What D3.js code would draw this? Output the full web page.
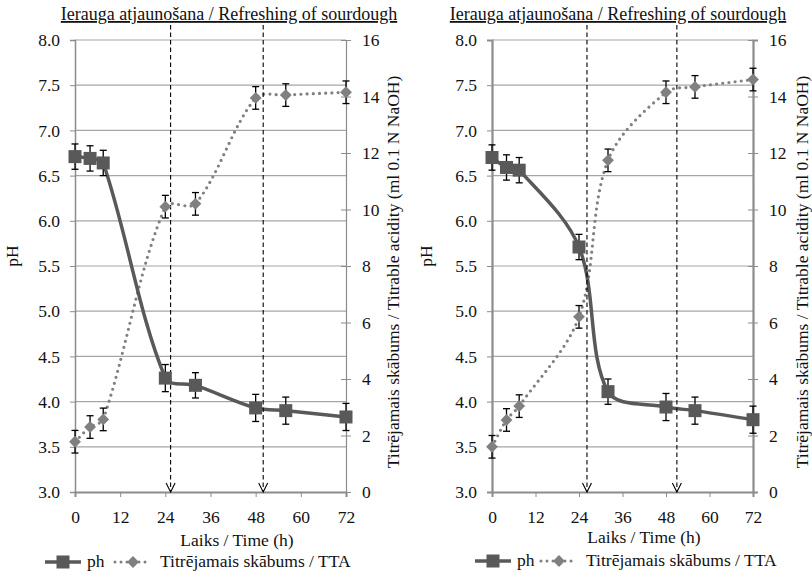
<!DOCTYPE html>
<html><head><meta charset="utf-8">
<script src="https://cdn.jsdelivr.net/npm/d3@7/dist/d3.min.js"></script>
<style>
html,body{margin:0;padding:0;background:#fff;}
svg{display:block;}
svg text{font-family:"Liberation Serif","DejaVu Serif","Times New Roman",serif !important;}
</style></head>
<body><svg id="c" width="812" height="571"></svg>
<script>
// ---- data ----
const times = [0, 4, 7.5, 24, 32, 48, 56, 72];
const phLeft = [6.71, 6.69, 6.64, 4.26, 4.18, 3.93, 3.90, 3.83];
const ttaLeft = [1.78, 2.30, 2.57, 10.10, 10.20, 13.95, 14.05, 14.15];
const phRight = [6.70, 6.59, 6.56, 5.71, 4.11, 3.94, 3.90, 3.80];
const ttaRight = [1.60, 2.55, 3.04, 6.20, 11.74, 14.15, 14.34, 14.60];
const phErrLeft = [0.14, 0.14, 0.14, 0.15, 0.14, 0.15, 0.15, 0.15];
const ttaErrLeft = [0.40, 0.40, 0.40, 0.40, 0.40, 0.40, 0.40, 0.40];
const phErrRight = [0.14, 0.14, 0.14, 0.14, 0.14, 0.15, 0.15, 0.15];
const ttaErrRight = [0.40, 0.40, 0.40, 0.40, 0.40, 0.40, 0.40, 0.40];
const arrowsLeft = [25.4, 50.0];
const arrowsRight = [26.2, 51.0];
const phTicks = [3.0, 3.5, 4.0, 4.5, 5.0, 5.5, 6.0, 6.5, 7.0, 7.5, 8.0];
const ttaTicks = [0, 2, 4, 6, 8, 10, 12, 14, 16];
const timeTicks = [0, 12, 24, 36, 48, 60, 72];
const titleText = "Ierauga atjaunošana / Refreshing of sourdough";
const yLabel = "pH";
const y2Label = "Titrējamais skābums / Titrable acidity (ml 0.1 N NaOH)";
const xLabel = "Laiks / Time (h)";
const legendLabels = ["ph", "Titrējamais skābums / TTA"];

const FONT = "Liberation Serif, DejaVu Serif, serif";
const svg = d3.select("#c");

const PH_COL = "#595959", TTA_COL = "#808080", GRID = "#a6a6a6", AXIS = "#8c8c8c";

// spreadsheet-style smoothed curve (Bezier with tangents weighted by segment lengths)
function SmoothCurve(context) { this._context = context; }
SmoothCurve.prototype = {
  areaStart() {}, areaEnd() {},
  lineStart() { this._pts = []; },
  point(x, y) { this._pts.push([+x, +y]); },
  lineEnd() {
    const p = this._pts, c = this._context, n = p.length;
    if (!n) return;
    c.moveTo(p[0][0], p[0][1]);
    if (n === 1) return;
    const d = (a, b) => Math.hypot(b[0] - a[0], b[1] - a[1]);
    const P = i => p[Math.max(0, Math.min(n - 1, i))];
    const tan = (i, seg) => {
      const a = P(i - 1), b = P(i + 1);
      const tot = d(a, P(i)) + d(P(i), b);
      const f = tot > 0 ? seg / tot / 3 : 0;
      return [(b[0] - a[0]) * f, (b[1] - a[1]) * f];
    };
    for (let i = 0; i < n - 1; i++) {
      const seg = d(p[i], p[i + 1]);
      const t1 = tan(i, seg), t2 = tan(i + 1, seg);
      c.bezierCurveTo(p[i][0] + t1[0], p[i][1] + t1[1],
        p[i + 1][0] - t2[0], p[i + 1][1] - t2[1], p[i + 1][0], p[i + 1][1]);
    }
  }
};
const curveSmooth = ctx => new SmoothCurve(ctx);

function panel(cfg) {
  const g = svg.append("g");
  const x = d3.scaleLinear().domain([0, 72]).range([cfg.x0, cfg.x1]);
  const y = d3.scaleLinear().domain([3, 8]).range([cfg.y1, cfg.y0]);
  const y2 = d3.scaleLinear().domain([0, 16]).range([cfg.y1, cfg.y0]);

  // gridlines
  g.append("g").selectAll("line").data(phTicks.slice(1)).join("line")
    .attr("x1", cfg.x0).attr("x2", cfg.x1)
    .attr("y1", d => y(d)).attr("y2", d => y(d))
    .attr("stroke", GRID).attr("stroke-width", 1.2);

  function styleAxis(a, w) {
    a.attr("font-family", FONT);
    a.select(".domain").attr("stroke", AXIS).attr("stroke-width", w);
    a.selectAll(".tick line").attr("stroke", AXIS);
    a.selectAll(".tick text").attr("font-size", 17.5).attr("fill", "#111").attr("font-family", FONT);
  }
  const la = g.append("g").attr("transform", `translate(${cfg.x0},0)`)
    .call(d3.axisLeft(y).tickValues(phTicks).tickFormat(d3.format(".1f")).tickSize(5).tickPadding(10));
  styleAxis(la, cfg.axW);

  const ra = g.append("g").attr("transform", `translate(${cfg.x1},0)`)
    .call(d3.axisRight(y2).tickValues(ttaTicks).tickSize(5).tickPadding(11));
  styleAxis(ra, cfg.axW2);
  ra.selectAll(".tick line").attr("x1", -5);

  const ba = g.append("g").attr("transform", `translate(0,${cfg.y1})`)
    .call(d3.axisBottom(x).tickValues(timeTicks).tickSize(5).tickPadding(14));
  styleAxis(ba, 2);

  // TTA line (dotted)
  const tPts = times.map((t, i) => [t, cfg.tta[i]]);
  g.append("path").datum(tPts)
    .attr("d", d3.line().x(d => x(d[0])).y(d => y2(d[1])).curve(curveSmooth))
    .attr("fill", "none").attr("stroke", TTA_COL).attr("stroke-width", 3.2)
    .attr("stroke-linecap", "round").attr("stroke-dasharray", "0,6.2");

  // pH line
  const pPts = times.map((t, i) => [t, cfg.ph[i]]);
  g.append("path").datum(pPts)
    .attr("d", d3.line().x(d => x(d[0])).y(d => y(d[1])).curve(curveSmooth))
    .attr("fill", "none").attr("stroke", PH_COL).attr("stroke-width", 3.5);

  // dashed arrows
  const ar = g.append("g");
  cfg.arrows.forEach(t => {
    const ax = x(t);
    ar.append("line").attr("x1", ax).attr("x2", ax).attr("y1", 25).attr("y2", cfg.y1)
      .attr("stroke", "#000").attr("stroke-width", 1.1).attr("stroke-dasharray", "4.5,3");
    ar.append("path").attr("d", `M${ax - 4.5},${cfg.y1 - 9}L${ax},${cfg.y1}L${ax + 4.5},${cfg.y1 - 9}`)
      .attr("fill", "none").attr("stroke", "#000").attr("stroke-width", 1.1);
  });

  // error bars
  function errBars(vals, errs, sc) {
    const eg = g.append("g").attr("stroke", "#000").attr("stroke-width", 1.3);
    times.forEach((t, i) => {
      const cx = x(t), yt = sc(vals[i] + errs[i]), yb = sc(vals[i] - errs[i]);
      eg.append("line").attr("x1", cx).attr("x2", cx).attr("y1", yt).attr("y2", yb);
      eg.append("line").attr("x1", cx - 3.5).attr("x2", cx + 3.5).attr("y1", yt).attr("y2", yt);
      eg.append("line").attr("x1", cx - 3.5).attr("x2", cx + 3.5).attr("y1", yb).attr("y2", yb);
    });
  }
  errBars(cfg.tta, cfg.ttaErr, y2);
  errBars(cfg.ph, cfg.phErr, y);

  // markers
  g.append("g").selectAll("path").data(tPts).join("path")
    .attr("d", d3.symbol(d3.symbolDiamond2, 90)())
    .attr("transform", d => `translate(${x(d[0])},${y2(d[1])})`)
    .attr("fill", TTA_COL);
  g.append("g").selectAll("rect").data(pPts).join("rect")
    .attr("x", d => x(d[0]) - 6.5).attr("y", d => y(d[1]) - 6.5)
    .attr("width", 13).attr("height", 13).attr("fill", PH_COL);

  // title
  g.append("text").attr("x", cfg.titleX).attr("y", 20).attr("text-anchor", "middle")
    .attr("font-family", FONT).attr("font-size", 18).attr("fill", "#111").attr("text-decoration", "underline")
    .text(titleText);

  // y labels
  g.append("text").attr("transform", `translate(${cfg.x0 - cfg.yLabOff},${(cfg.y0 + cfg.y1) / 2 - 10}) rotate(-90)`)
    .attr("text-anchor", "middle").attr("font-family", FONT).attr("font-size", 17.5).attr("fill", "#111").text(yLabel);
  g.append("text").attr("transform", `translate(${cfg.y2LabX},272) rotate(-90)`)
    .attr("text-anchor", "middle").attr("dy", "0.35em").attr("font-family", FONT).attr("font-size", 17.5).attr("fill", "#111").text(y2Label);

  // x label
  g.append("text").attr("x", cfg.xLabX).attr("y", cfg.xLabY).attr("text-anchor", "middle")
    .attr("font-family", FONT).attr("font-size", 17.5).attr("fill", "#111").text(xLabel);

  // legend
  const lg = g.append("g").attr("font-family", FONT);
  const ly = cfg.legY;
  lg.append("line").attr("x1", cfg.leg[0]).attr("x2", cfg.leg[0] + 36).attr("y1", ly).attr("y2", ly)
    .attr("stroke", PH_COL).attr("stroke-width", 3.5);
  lg.append("rect").attr("x", cfg.leg[0] + 18 - 6.5).attr("y", ly - 6.5).attr("width", 13).attr("height", 13).attr("fill", PH_COL);
  lg.append("text").attr("x", cfg.leg[0] + 42).attr("y", ly + 5).attr("font-size", 17.5).attr("fill", "#111").text(legendLabels[0]);
  lg.append("line").attr("x1", cfg.leg[1]).attr("x2", cfg.leg[1] + 36).attr("y1", ly).attr("y2", ly)
    .attr("stroke", TTA_COL).attr("stroke-width", 3).attr("stroke-linecap", "round").attr("stroke-dasharray", "0,6");
  lg.append("path").attr("d", d3.symbol(d3.symbolDiamond2, 90)()).attr("transform", `translate(${cfg.leg[1] + 18},${ly})`).attr("fill", TTA_COL);
  lg.append("text").attr("x", cfg.leg[1] + 45).attr("y", ly + 5).attr("font-size", 17.5).attr("fill", "#111").text(legendLabels[1]);
}

panel({ x0: 75, x1: 346, y0: 40, y1: 492, ph: phLeft, tta: ttaLeft, phErr: phErrLeft, ttaErr: ttaErrLeft,
  arrows: arrowsLeft, axW: 1.5, axW2: 1.2, titleX: 229, yLabOff: 57, y2LabX: 393, xLabX: 237, xLabY: 546,
  legY: 562, leg: [45, 115] });
panel({ x0: 492, x1: 753, y0: 40, y1: 492, ph: phRight, tta: ttaRight, phErr: phErrRight, ttaErr: ttaErrRight,
  arrows: arrowsRight, axW: 2.2, axW2: 2.2, titleX: 618, yLabOff: 60, y2LabX: 802, xLabX: 644, xLabY: 543,
  legY: 561, leg: [475, 541] });
</script></body></html>
